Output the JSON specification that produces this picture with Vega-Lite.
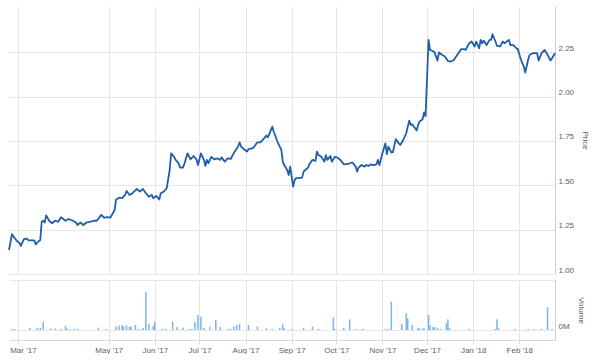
{
  "$schema": "https://vega.github.io/schema/vega-lite/v6.json",
  "padding": {"left": 8, "top": 6, "right": 0, "bottom": 0},
  "background": "white",
  "bounds": "flush",
  "spacing": 6,
  "config": {
    "view": {"stroke": null},
    "font": "Liberation Sans",
    "axis": {
      "labelFont": "Liberation Sans",
      "labelFontSize": 8,
      "labelColor": "#606060",
      "titleFont": "Liberation Sans",
      "titleFontSize": 8,
      "titleFontWeight": "normal",
      "titleColor": "#606060",
      "gridColor": "#e6e6e6",
      "gridWidth": 1
    }
  },
  "datasets": {
    "price": [
      {"date": "2017-02-23", "price": 1.135},
      {"date": "2017-02-25", "price": 1.224},
      {"date": "2017-02-27", "price": 1.2},
      {"date": "2017-03-01", "price": 1.18},
      {"date": "2017-03-02", "price": 1.176},
      {"date": "2017-03-03", "price": 1.158},
      {"date": "2017-03-05", "price": 1.196},
      {"date": "2017-03-07", "price": 1.2},
      {"date": "2017-03-08", "price": 1.19},
      {"date": "2017-03-12", "price": 1.19},
      {"date": "2017-03-13", "price": 1.167},
      {"date": "2017-03-15", "price": 1.186},
      {"date": "2017-03-16", "price": 1.19},
      {"date": "2017-03-17", "price": 1.295},
      {"date": "2017-03-18", "price": 1.3},
      {"date": "2017-03-19", "price": 1.29},
      {"date": "2017-03-20", "price": 1.33},
      {"date": "2017-03-22", "price": 1.3},
      {"date": "2017-03-24", "price": 1.286},
      {"date": "2017-03-26", "price": 1.3},
      {"date": "2017-03-28", "price": 1.295},
      {"date": "2017-03-30", "price": 1.32},
      {"date": "2017-04-02", "price": 1.3},
      {"date": "2017-04-04", "price": 1.31},
      {"date": "2017-04-07", "price": 1.3},
      {"date": "2017-04-09", "price": 1.29},
      {"date": "2017-04-10", "price": 1.276},
      {"date": "2017-04-12", "price": 1.29},
      {"date": "2017-04-14", "price": 1.276},
      {"date": "2017-04-16", "price": 1.29},
      {"date": "2017-04-19", "price": 1.295},
      {"date": "2017-04-21", "price": 1.3},
      {"date": "2017-04-23", "price": 1.3},
      {"date": "2017-04-26", "price": 1.333},
      {"date": "2017-04-28", "price": 1.317},
      {"date": "2017-04-30", "price": 1.32},
      {"date": "2017-05-02", "price": 1.317},
      {"date": "2017-05-05", "price": 1.36},
      {"date": "2017-05-06", "price": 1.42},
      {"date": "2017-05-08", "price": 1.43},
      {"date": "2017-05-10", "price": 1.427},
      {"date": "2017-05-12", "price": 1.445},
      {"date": "2017-05-13", "price": 1.468},
      {"date": "2017-05-15", "price": 1.445},
      {"date": "2017-05-17", "price": 1.455},
      {"date": "2017-05-18", "price": 1.464},
      {"date": "2017-05-20", "price": 1.479},
      {"date": "2017-05-22", "price": 1.464},
      {"date": "2017-05-24", "price": 1.479},
      {"date": "2017-05-26", "price": 1.455},
      {"date": "2017-05-28", "price": 1.436},
      {"date": "2017-05-30", "price": 1.445},
      {"date": "2017-05-31", "price": 1.427},
      {"date": "2017-06-02", "price": 1.44},
      {"date": "2017-06-04", "price": 1.42},
      {"date": "2017-06-05", "price": 1.455},
      {"date": "2017-06-07", "price": 1.464},
      {"date": "2017-06-09", "price": 1.483},
      {"date": "2017-06-11", "price": 1.586},
      {"date": "2017-06-12", "price": 1.68},
      {"date": "2017-06-14", "price": 1.66},
      {"date": "2017-06-15", "price": 1.643},
      {"date": "2017-06-17", "price": 1.624},
      {"date": "2017-06-18", "price": 1.6},
      {"date": "2017-06-20", "price": 1.6},
      {"date": "2017-06-21", "price": 1.624},
      {"date": "2017-06-23", "price": 1.68},
      {"date": "2017-06-25", "price": 1.646},
      {"date": "2017-06-27", "price": 1.665},
      {"date": "2017-06-29", "price": 1.646},
      {"date": "2017-06-30", "price": 1.614},
      {"date": "2017-07-02", "price": 1.68},
      {"date": "2017-07-04", "price": 1.643},
      {"date": "2017-07-05", "price": 1.609},
      {"date": "2017-07-06", "price": 1.643},
      {"date": "2017-07-07", "price": 1.624},
      {"date": "2017-07-09", "price": 1.66},
      {"date": "2017-07-11", "price": 1.646},
      {"date": "2017-07-13", "price": 1.652},
      {"date": "2017-07-15", "price": 1.643},
      {"date": "2017-07-16", "price": 1.658},
      {"date": "2017-07-18", "price": 1.633},
      {"date": "2017-07-20", "price": 1.652},
      {"date": "2017-07-22", "price": 1.648},
      {"date": "2017-07-24", "price": 1.68},
      {"date": "2017-07-27", "price": 1.718},
      {"date": "2017-07-28", "price": 1.742},
      {"date": "2017-07-29", "price": 1.718},
      {"date": "2017-07-31", "price": 1.703},
      {"date": "2017-08-02", "price": 1.69},
      {"date": "2017-08-03", "price": 1.703},
      {"date": "2017-08-06", "price": 1.709},
      {"date": "2017-08-07", "price": 1.72},
      {"date": "2017-08-09", "price": 1.742},
      {"date": "2017-08-11", "price": 1.742},
      {"date": "2017-08-13", "price": 1.76},
      {"date": "2017-08-15", "price": 1.78},
      {"date": "2017-08-16", "price": 1.77},
      {"date": "2017-08-17", "price": 1.79},
      {"date": "2017-08-19", "price": 1.83},
      {"date": "2017-08-20", "price": 1.8},
      {"date": "2017-08-21", "price": 1.78},
      {"date": "2017-08-22", "price": 1.755},
      {"date": "2017-08-24", "price": 1.718},
      {"date": "2017-08-25", "price": 1.703},
      {"date": "2017-08-26", "price": 1.633},
      {"date": "2017-08-27", "price": 1.614},
      {"date": "2017-08-29", "price": 1.586},
      {"date": "2017-08-30", "price": 1.558},
      {"date": "2017-08-31", "price": 1.605},
      {"date": "2017-09-01", "price": 1.548},
      {"date": "2017-09-02", "price": 1.492},
      {"date": "2017-09-03", "price": 1.53},
      {"date": "2017-09-04", "price": 1.54},
      {"date": "2017-09-06", "price": 1.54},
      {"date": "2017-09-08", "price": 1.543},
      {"date": "2017-09-09", "price": 1.577},
      {"date": "2017-09-12", "price": 1.6},
      {"date": "2017-09-13", "price": 1.62},
      {"date": "2017-09-15", "price": 1.643},
      {"date": "2017-09-17", "price": 1.637},
      {"date": "2017-09-18", "price": 1.69},
      {"date": "2017-09-19", "price": 1.67},
      {"date": "2017-09-21", "price": 1.66},
      {"date": "2017-09-23", "price": 1.633},
      {"date": "2017-09-24", "price": 1.67},
      {"date": "2017-09-25", "price": 1.643},
      {"date": "2017-09-27", "price": 1.665},
      {"date": "2017-09-28", "price": 1.633},
      {"date": "2017-09-30", "price": 1.66},
      {"date": "2017-10-02", "price": 1.655},
      {"date": "2017-10-04", "price": 1.64},
      {"date": "2017-10-06", "price": 1.618},
      {"date": "2017-10-09", "price": 1.62},
      {"date": "2017-10-11", "price": 1.627},
      {"date": "2017-10-12", "price": 1.627},
      {"date": "2017-10-14", "price": 1.605},
      {"date": "2017-10-15", "price": 1.577},
      {"date": "2017-10-16", "price": 1.6},
      {"date": "2017-10-18", "price": 1.614},
      {"date": "2017-10-20", "price": 1.605},
      {"date": "2017-10-21", "price": 1.614},
      {"date": "2017-10-23", "price": 1.609},
      {"date": "2017-10-24", "price": 1.618},
      {"date": "2017-10-26", "price": 1.614},
      {"date": "2017-10-28", "price": 1.618},
      {"date": "2017-10-29", "price": 1.643},
      {"date": "2017-10-30", "price": 1.614},
      {"date": "2017-11-01", "price": 1.68},
      {"date": "2017-11-03", "price": 1.736},
      {"date": "2017-11-04", "price": 1.676},
      {"date": "2017-11-05", "price": 1.718},
      {"date": "2017-11-07", "price": 1.684},
      {"date": "2017-11-08", "price": 1.686},
      {"date": "2017-11-10", "price": 1.76},
      {"date": "2017-11-12", "price": 1.736},
      {"date": "2017-11-13", "price": 1.727},
      {"date": "2017-11-15", "price": 1.755},
      {"date": "2017-11-17", "price": 1.793},
      {"date": "2017-11-19", "price": 1.864},
      {"date": "2017-11-20", "price": 1.84},
      {"date": "2017-11-21", "price": 1.844},
      {"date": "2017-11-23", "price": 1.821},
      {"date": "2017-11-24", "price": 1.808},
      {"date": "2017-11-25", "price": 1.84},
      {"date": "2017-11-26", "price": 1.859},
      {"date": "2017-11-28", "price": 1.872},
      {"date": "2017-11-29", "price": 1.91},
      {"date": "2017-11-30", "price": 1.89},
      {"date": "2017-12-02", "price": 2.319},
      {"date": "2017-12-03", "price": 2.263},
      {"date": "2017-12-04", "price": 2.259},
      {"date": "2017-12-06", "price": 2.25},
      {"date": "2017-12-08", "price": 2.203},
      {"date": "2017-12-09", "price": 2.248},
      {"date": "2017-12-11", "price": 2.235},
      {"date": "2017-12-13", "price": 2.225},
      {"date": "2017-12-15", "price": 2.2},
      {"date": "2017-12-17", "price": 2.197},
      {"date": "2017-12-19", "price": 2.206},
      {"date": "2017-12-22", "price": 2.244},
      {"date": "2017-12-24", "price": 2.267},
      {"date": "2017-12-26", "price": 2.267},
      {"date": "2017-12-27", "price": 2.263},
      {"date": "2017-12-29", "price": 2.297},
      {"date": "2017-12-31", "price": 2.31},
      {"date": "2018-01-02", "price": 2.282},
      {"date": "2018-01-03", "price": 2.31},
      {"date": "2018-01-05", "price": 2.272},
      {"date": "2018-01-06", "price": 2.319},
      {"date": "2018-01-07", "price": 2.3},
      {"date": "2018-01-08", "price": 2.315},
      {"date": "2018-01-10", "price": 2.29},
      {"date": "2018-01-12", "price": 2.319},
      {"date": "2018-01-13", "price": 2.319},
      {"date": "2018-01-14", "price": 2.351},
      {"date": "2018-01-16", "price": 2.31},
      {"date": "2018-01-17", "price": 2.285},
      {"date": "2018-01-19", "price": 2.282},
      {"date": "2018-01-21", "price": 2.31},
      {"date": "2018-01-22", "price": 2.3},
      {"date": "2018-01-25", "price": 2.319},
      {"date": "2018-01-26", "price": 2.29},
      {"date": "2018-01-28", "price": 2.29},
      {"date": "2018-01-30", "price": 2.272},
      {"date": "2018-01-31", "price": 2.267},
      {"date": "2018-02-02", "price": 2.21},
      {"date": "2018-02-03", "price": 2.19},
      {"date": "2018-02-04", "price": 2.169},
      {"date": "2018-02-05", "price": 2.135},
      {"date": "2018-02-07", "price": 2.21},
      {"date": "2018-02-08", "price": 2.235},
      {"date": "2018-02-10", "price": 2.244},
      {"date": "2018-02-13", "price": 2.244},
      {"date": "2018-02-14", "price": 2.203},
      {"date": "2018-02-16", "price": 2.244},
      {"date": "2018-02-18", "price": 2.263},
      {"date": "2018-02-20", "price": 2.235},
      {"date": "2018-02-22", "price": 2.203},
      {"date": "2018-02-23", "price": 2.216},
      {"date": "2018-02-25", "price": 2.244}
    ],
    "volume": [
      {"date": "2017-02-25", "volume": 0.02},
      {"date": "2017-02-27", "volume": 0.02},
      {"date": "2017-03-09", "volume": 0.04},
      {"date": "2017-03-14", "volume": 0.04},
      {"date": "2017-03-16", "volume": 0.04},
      {"date": "2017-03-18", "volume": 0.166},
      {"date": "2017-03-23", "volume": 0.03},
      {"date": "2017-03-26", "volume": 0.03},
      {"date": "2017-03-30", "volume": 0.02},
      {"date": "2017-04-02", "volume": 0.086},
      {"date": "2017-04-03", "volume": 0.03},
      {"date": "2017-04-05", "volume": 0.02},
      {"date": "2017-04-08", "volume": 0.02},
      {"date": "2017-04-10", "volume": 0.02},
      {"date": "2017-04-24", "volume": 0.046},
      {"date": "2017-04-29", "volume": 0.02},
      {"date": "2017-05-06", "volume": 0.07},
      {"date": "2017-05-08", "volume": 0.09},
      {"date": "2017-05-10", "volume": 0.1},
      {"date": "2017-05-11", "volume": 0.07},
      {"date": "2017-05-13", "volume": 0.09},
      {"date": "2017-05-15", "volume": 0.06},
      {"date": "2017-05-16", "volume": 0.07},
      {"date": "2017-05-19", "volume": 0.1},
      {"date": "2017-05-21", "volume": 0.02},
      {"date": "2017-05-24", "volume": 0.04},
      {"date": "2017-05-26", "volume": 0.766},
      {"date": "2017-05-28", "volume": 0.12},
      {"date": "2017-05-31", "volume": 0.086},
      {"date": "2017-06-01", "volume": 0.166},
      {"date": "2017-06-06", "volume": 0.02},
      {"date": "2017-06-08", "volume": 0.02},
      {"date": "2017-06-13", "volume": 0.166},
      {"date": "2017-06-16", "volume": 0.06},
      {"date": "2017-06-20", "volume": 0.046},
      {"date": "2017-06-24", "volume": 0.02},
      {"date": "2017-06-26", "volume": 0.02},
      {"date": "2017-06-28", "volume": 0.166},
      {"date": "2017-06-30", "volume": 0.3},
      {"date": "2017-07-02", "volume": 0.266},
      {"date": "2017-07-04", "volume": 0.04},
      {"date": "2017-07-08", "volume": 0.066},
      {"date": "2017-07-12", "volume": 0.2},
      {"date": "2017-07-15", "volume": 0.06},
      {"date": "2017-07-20", "volume": 0.02},
      {"date": "2017-07-22", "volume": 0.02},
      {"date": "2017-07-24", "volume": 0.066},
      {"date": "2017-07-26", "volume": 0.1},
      {"date": "2017-07-28", "volume": 0.12},
      {"date": "2017-08-03", "volume": 0.1},
      {"date": "2017-08-09", "volume": 0.066},
      {"date": "2017-08-15", "volume": 0.034},
      {"date": "2017-08-19", "volume": 0.02},
      {"date": "2017-08-24", "volume": 0.046},
      {"date": "2017-08-26", "volume": 0.114},
      {"date": "2017-08-27", "volume": 0.034},
      {"date": "2017-09-01", "volume": 0.02},
      {"date": "2017-09-09", "volume": 0.046},
      {"date": "2017-09-15", "volume": 0.066},
      {"date": "2017-09-19", "volume": 0.02},
      {"date": "2017-09-29", "volume": 0.254},
      {"date": "2017-09-30", "volume": 0.02},
      {"date": "2017-10-06", "volume": 0.046},
      {"date": "2017-10-10", "volume": 0.214},
      {"date": "2017-10-14", "volume": 0.02},
      {"date": "2017-10-19", "volume": 0.02},
      {"date": "2017-11-03", "volume": 0.02},
      {"date": "2017-11-05", "volume": 0.02},
      {"date": "2017-11-07", "volume": 0.566},
      {"date": "2017-11-14", "volume": 0.114},
      {"date": "2017-11-17", "volume": 0.334},
      {"date": "2017-11-18", "volume": 0.234},
      {"date": "2017-11-21", "volume": 0.1},
      {"date": "2017-11-25", "volume": 0.046},
      {"date": "2017-11-26", "volume": 0.03},
      {"date": "2017-11-28", "volume": 0.03},
      {"date": "2017-11-29", "volume": 0.03},
      {"date": "2017-12-02", "volume": 0.3},
      {"date": "2017-12-03", "volume": 0.1},
      {"date": "2017-12-05", "volume": 0.06},
      {"date": "2017-12-06", "volume": 0.054},
      {"date": "2017-12-08", "volume": 0.046},
      {"date": "2017-12-10", "volume": 0.02},
      {"date": "2017-12-14", "volume": 0.134},
      {"date": "2017-12-15", "volume": 0.214},
      {"date": "2017-12-16", "volume": 0.04},
      {"date": "2017-12-29", "volume": 0.02},
      {"date": "2018-01-16", "volume": 0.02},
      {"date": "2018-01-17", "volume": 0.214},
      {"date": "2018-01-18", "volume": 0.034},
      {"date": "2018-01-29", "volume": 0.02},
      {"date": "2018-02-07", "volume": 0.02},
      {"date": "2018-02-11", "volume": 0.02},
      {"date": "2018-02-16", "volume": 0.02},
      {"date": "2018-02-20", "volume": 0.454},
      {"date": "2018-02-23", "volume": 0.02}
    ]
  },
  "vconcat": [
    {
      "width": 546,
      "height": 268,
      "data": {"name": "price"},
      "mark": {"type": "line", "color": "#1f5fa8", "strokeWidth": 1.8, "strokeJoin": "round"},
      "encoding": {
        "x": {
          "field": "date",
          "type": "temporal",
          "scale": {"type": "utc", "domain": ["2017-02-23", "2018-02-25"], "nice": false},
          "axis": {
            "title": null,
            "labels": false,
            "ticks": false,
            "domain": false,
            "grid": true,
            "values": [
              {"year": 2017, "month": 3, "date": 1, "utc": true},
              {"year": 2017, "month": 5, "date": 1, "utc": true},
              {"year": 2017, "month": 6, "date": 1, "utc": true},
              {"year": 2017, "month": 7, "date": 1, "utc": true},
              {"year": 2017, "month": 8, "date": 1, "utc": true},
              {"year": 2017, "month": 9, "date": 1, "utc": true},
              {"year": 2017, "month": 10, "date": 1, "utc": true},
              {"year": 2017, "month": 11, "date": 1, "utc": true},
              {"year": 2017, "month": 12, "date": 1, "utc": true},
              {"year": 2018, "month": 1, "date": 1, "utc": true},
              {"year": 2018, "month": 2, "date": 1, "utc": true}
            ]
          }
        },
        "y": {
          "field": "price",
          "type": "quantitative",
          "scale": {"domain": [1.0, 2.51], "nice": false, "zero": false},
          "axis": {
            "orient": "right",
            "title": "Price",
            "titlePadding": 7,
            "values": [1.0, 1.25, 1.5, 1.75, 2.0, 2.25],
            "format": ".2f",
            "ticks": false,
            "labelPadding": 3,
            "labelOffset": -4,
            "domainColor": "#c0d0e0",
            "grid": true
          }
        }
      }
    },
    {
      "width": 546,
      "height": 60,
      "data": {"name": "volume"},
      "mark": {"type": "rule", "color": "#7cb5ec", "strokeWidth": 1.5},
      "encoding": {
        "x": {
          "field": "date",
          "type": "temporal",
          "scale": {"type": "utc", "domain": ["2017-02-23", "2018-02-25"], "nice": false},
          "axis": {
            "title": null,
            "grid": true,
            "domainColor": "#d8d8d8",
            "tickColor": "#d8d8d8",
            "tickSize": 4,
            "labelPadding": 2,
            "labelExpr": "utcFormat(datum.value, \"%b '%y\")",
            "labelOffset": {"condition": {"test": "utcyear(datum.value) == 2017 && utcmonth(datum.value) == 2", "value": 5}, "value": 0},
            "values": [
              {"year": 2017, "month": 3, "date": 1, "utc": true},
              {"year": 2017, "month": 5, "date": 1, "utc": true},
              {"year": 2017, "month": 6, "date": 1, "utc": true},
              {"year": 2017, "month": 7, "date": 1, "utc": true},
              {"year": 2017, "month": 8, "date": 1, "utc": true},
              {"year": 2017, "month": 9, "date": 1, "utc": true},
              {"year": 2017, "month": 10, "date": 1, "utc": true},
              {"year": 2017, "month": 11, "date": 1, "utc": true},
              {"year": 2017, "month": 12, "date": 1, "utc": true},
              {"year": 2018, "month": 1, "date": 1, "utc": true},
              {"year": 2018, "month": 2, "date": 1, "utc": true}
            ]
          }
        },
        "y": {
          "field": "volume",
          "type": "quantitative",
          "scale": {"domain": [-0.2, 1.0], "nice": false, "zero": false},
          "axis": {
            "orient": "right",
            "title": "Volume",
            "titlePadding": 7,
            "values": [0, 1],
            "labelExpr": "datum.value == 0 ? '0M' : ''",
            "ticks": false,
            "labelPadding": 3,
            "labelOffset": -4,
            "domainColor": "#c0d0e0",
            "grid": true
          }
        },
        "y2": {"datum": 0}
      }
    }
  ]
}
